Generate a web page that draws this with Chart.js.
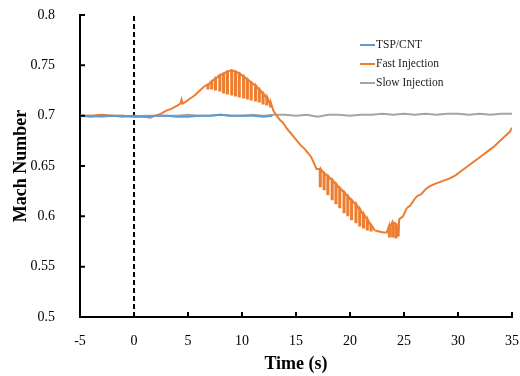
<!DOCTYPE html>
<html>
<head>
<meta charset="utf-8">
<script src="https://cdn.jsdelivr.net/npm/chart.js@4"></script>
<style>
  body { margin: 0; background: #fff; }
  #wrap { width: 520px; height: 376px; }
</style>
</head>
<body>
<div id="wrap"><canvas id="myChart" width="520" height="376"></canvas></div>
<script>
// axis ticks
const timeTicks = [-5, 0, 5, 10, 15, 20, 25, 30, 35];
const machTicks = [0.5, 0.55, 0.6, 0.65, 0.7, 0.75, 0.8];

const seriesNames = ['TSP/CNT', 'Fast Injection', 'Slow Injection'];
const seriesColors = ['#5b9bd5', '#ed7d31', '#a5a5a5'];

// TSP/CNT (stops around 13 s)
const tspTime = [-5, -4, -3, -2, -1, 0, 1, 2, 3, 4, 5, 6, 7, 8, 9, 10, 11, 12, 12.8];
const tspMach = [0.700, 0.699, 0.700, 0.700, 0.699, 0.700, 0.699, 0.700, 0.700, 0.699,
                 0.699, 0.700, 0.700, 0.701, 0.700, 0.700, 0.700, 0.699, 0.700];

// Fast injection: value at each time, and bottom of the spike (null = no spike)
const fastTime = [-5, -4, -3, -2, -1, 0, 1, 1.5, 2, 2.5, 3, 3.5, 4, 4.3, 4.4, 4.5, 4.8, 5.2, 5.6, 6.1, 6.5,
  6.8, 7.15, 7.5, 7.9, 8.25, 8.6, 9.0, 9.35, 9.7, 10.1, 10.45, 10.8, 11.2, 11.55, 11.9, 12.25, 12.6,
  12.9, 13.2, 13.5, 13.8, 14.1, 14.4, 14.8, 15.1, 15.4, 15.8, 16.1, 16.4, 16.7, 16.9,
  17.2, 17.55, 17.9, 18.3, 18.65, 19.0, 19.4, 19.75, 20.1, 20.5, 20.85, 21.2, 21.55, 21.9,
  22.3, 22.7, 23.1, 23.4, 23.6, 23.9, 24.2, 24.5, 24.55, 24.9, 25.25, 25.6, 25.9, 26.2, 26.6,
  27.0, 27.4, 27.8, 28.3, 28.8, 29.3, 29.8, 30.3, 30.8, 31.3, 31.8, 32.3, 32.8, 33.3, 33.8,
  34.3, 34.8, 35.0];
const fastTop = [0.700, 0.700, 0.701, 0.700, 0.700, 0.699, 0.699, 0.698, 0.700, 0.702, 0.705, 0.707, 0.710, 0.712, 0.716, 0.712, 0.714, 0.717, 0.720, 0.725, 0.729,
  0.731, 0.734, 0.737, 0.740, 0.742, 0.744, 0.745, 0.744, 0.742, 0.739, 0.736, 0.733, 0.730, 0.726, 0.722, 0.718, 0.712,
  0.705, 0.700, 0.696, 0.693, 0.688, 0.684, 0.679, 0.675, 0.671, 0.667, 0.663, 0.659, 0.652, 0.647,
  0.647, 0.643, 0.640, 0.636, 0.632, 0.628, 0.624, 0.620, 0.616, 0.612, 0.607, 0.602, 0.597, 0.591,
  0.586, 0.585, 0.584, 0.584, 0.590, 0.594, 0.593, 0.580, 0.597, 0.600, 0.608, 0.611, 0.616, 0.620, 0.622,
  0.627, 0.630, 0.632, 0.634, 0.636, 0.638, 0.641, 0.645, 0.649, 0.653, 0.657, 0.661, 0.665, 0.669, 0.674,
  0.679, 0.684, 0.688];
const fastLow = [null, null, null, null, null, null, null, null, null, null, null, null, null, null, null, null, null, null, null, null, null,
  0.727, 0.727, 0.726, 0.725, 0.723, 0.722, 0.721, 0.720, 0.719, 0.718, 0.717, 0.716, 0.715, 0.714, 0.712, 0.711, 0.709,
  null, null, null, null, null, null, null, null, null, null, null, null, null, null,
  0.630, 0.627, 0.622, 0.617, 0.613, 0.609, 0.604, 0.601, 0.597, 0.594, 0.591, 0.589, 0.587, 0.586,
  null, null, null, null, 0.580, 0.580, 0.579, null, null, null, null, null, null, null, null,
  null, null, null, null, null, null, null, null, null, null, null, null, null, null, null,
  null, null, null];
// each spike lasts about one sample (s)
const spikeWidth = 0.1;

// Slow injection
const slowTime = [-5, -4, -3, -2, -1, 0, 1, 2, 3, 4, 5, 6, 7, 8, 9, 10, 11, 12, 13, 14, 15, 16, 17, 18, 19,
  20, 21, 22, 23, 24, 25, 26, 27, 28, 29, 30, 31, 32, 33, 34, 35];
const slowMach = [0.700, 0.700, 0.699, 0.700, 0.700, 0.699, 0.700, 0.700, 0.700, 0.700, 0.701, 0.700, 0.700,
  0.701, 0.700, 0.700, 0.701, 0.700, 0.701, 0.701, 0.700, 0.701, 0.699, 0.701, 0.701, 0.700, 0.701, 0.701,
  0.702, 0.701, 0.702, 0.701, 0.702, 0.701, 0.702, 0.702, 0.701, 0.702, 0.701, 0.702, 0.702];

const serif = "'Liberation Serif', 'Times New Roman', serif";

function toPoints(t, v) {
  return t.map((x, i) => ({ x: x, y: v[i] }));
}

const fastPoints = [];
fastTime.forEach((t, i) => {
  fastPoints.push({ x: t, y: fastTop[i] });
  if (fastLow[i] !== null) {
    fastPoints.push({ x: t, y: fastLow[i] });
    fastPoints.push({ x: t + spikeWidth, y: fastLow[i] });
    fastPoints.push({ x: t + spikeWidth, y: fastTop[i] });
  }
});

// inward tick marks
const tickMarks = {
  id: 'tickMarks',
  afterDatasetsDraw(chart) {
    const { ctx, scales: { x, y } } = chart;
    ctx.save();
    ctx.strokeStyle = '#000';
    ctx.lineWidth = 2;
    ctx.beginPath();
    timeTicks.forEach(t => {
      const px = x.getPixelForValue(t);
      ctx.moveTo(px, y.bottom);
      ctx.lineTo(px, y.bottom - 5);
    });
    machTicks.forEach(v => {
      const py = y.getPixelForValue(v);
      ctx.moveTo(x.left, py);
      ctx.lineTo(x.left + 5, py);
    });
    ctx.stroke();
    ctx.restore();
  }
};

// legend inside the plot, top right
const boxLegend = {
  id: 'boxLegend',
  afterDraw(chart) {
    const ctx = chart.ctx;
    ctx.save();
    ctx.font = '11.5px ' + serif;
    ctx.textBaseline = 'middle';
    ctx.fillStyle = '#222';
    seriesNames.forEach((name, i) => {
      const yy = 45 + i * 19;
      ctx.strokeStyle = seriesColors[i];
      ctx.lineWidth = 2;
      ctx.beginPath();
      ctx.moveTo(360, yy);
      ctx.lineTo(375, yy);
      ctx.stroke();
      ctx.fillText(name, 376, yy);
    });
    ctx.restore();
  }
};

function line(label, data, i) {
  return {
    label: label,
    data: data,
    borderColor: seriesColors[i],
    backgroundColor: seriesColors[i],
    borderWidth: 2,
    pointRadius: 0,
    tension: 0,
    fill: false
  };
}

new Chart(document.getElementById('myChart'), {
  type: 'line',
  data: {
    datasets: [
      line(seriesNames[0], toPoints(tspTime, tspMach), 0),
      line(seriesNames[1], fastPoints, 1),
      line(seriesNames[2], toPoints(slowTime, slowMach), 2),
      {
        label: 'zero',
        data: [{ x: 0, y: machTicks[0] }, { x: 0, y: machTicks[machTicks.length - 1] }],
        borderColor: '#000',
        borderWidth: 2,
        borderDash: [5, 3],
        pointRadius: 0
      }
    ]
  },
  options: {
    responsive: false,
    animation: false,
    layout: { padding: { top: 15, right: 8, left: 0, bottom: 0 } },
    plugins: {
      legend: { display: false },
      tooltip: { enabled: false }
    },
    scales: {
      x: {
        type: 'linear',
        min: -5,
        max: 35,
        afterBuildTicks: s => { s.ticks = timeTicks.map(v => ({ value: v })); },
        afterFit: s => { s.height = 59; s.paddingLeft = 0; s.paddingRight = 0; },
        grid: { display: false },
        border: { display: true, color: '#000', width: 2 },
        ticks: {
          color: '#000',
          padding: 8,
          maxRotation: 0,
          font: { family: serif, size: 14 },
          callback: v => String(v)
        },
        title: {
          display: true,
          text: 'Time (s)',
          color: '#000',
          padding: { top: 1, bottom: 1 },
          font: { family: serif, size: 18, weight: 'bold' }
        }
      },
      y: {
        min: 0.5,
        max: 0.8,
        afterBuildTicks: s => { s.ticks = machTicks.map(v => ({ value: v })); },
        afterFit: s => { s.width = 80; s.paddingTop = 0; s.paddingBottom = 0; },
        grid: { display: false },
        border: { display: true, color: '#000', width: 2 },
        ticks: {
          color: '#000',
          padding: 17,
          font: { family: serif, size: 14 },
          callback: v => String(v)
        },
        title: {
          display: true,
          text: 'Mach Number',
          color: '#000',
          padding: { top: 11, bottom: 0 },
          font: { family: serif, size: 18, weight: 'bold' }
        }
      }
    }
  },
  plugins: [tickMarks, boxLegend]
});
</script>
</body>
</html>
